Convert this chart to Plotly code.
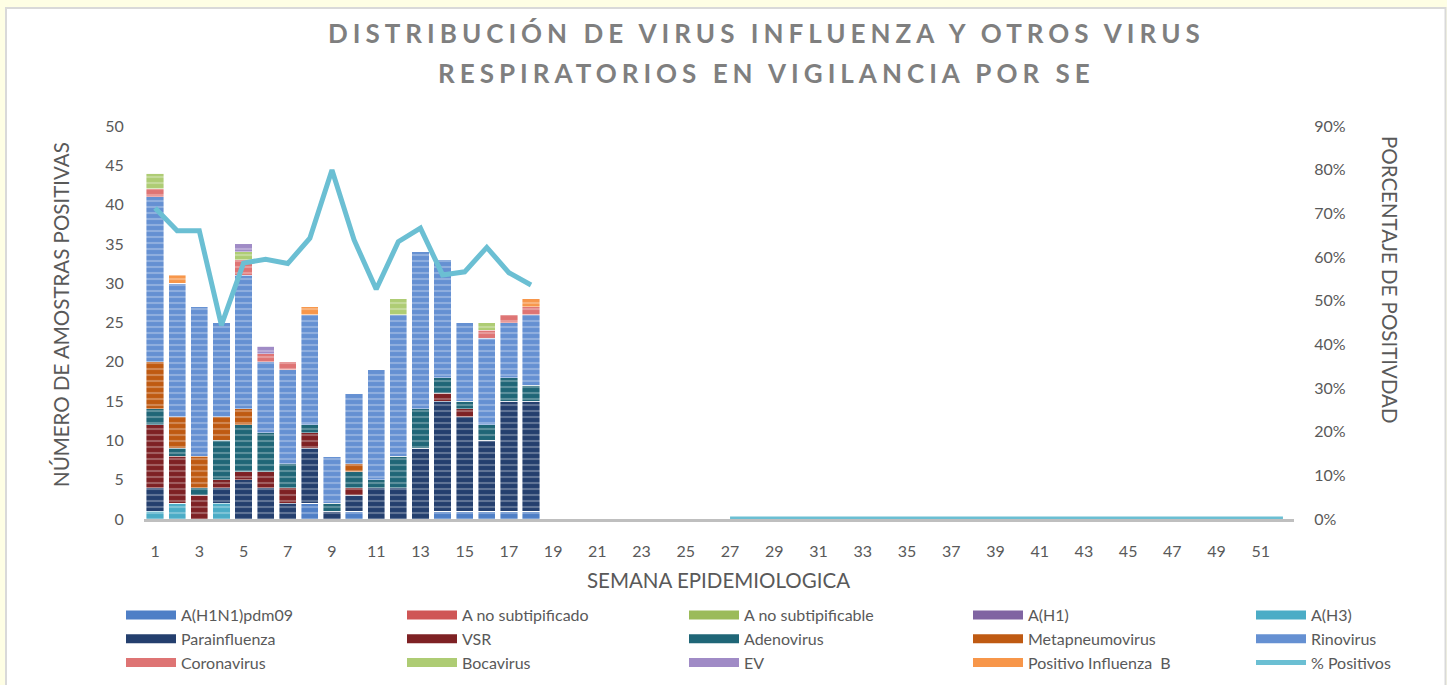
import plotly.graph_objects as go

# ---------------- data ----------------
weeks = list(range(1, 19))          # weeks with bars
all_weeks = list(range(1, 53))      # epidemiological weeks on axis
tick_weeks = list(range(1, 52, 2))

h1n1pdm09        = [0, 0, 0, 0, 0, 0, 0, 2, 0, 1, 0, 0, 0, 1, 1, 1, 1, 1]
a_no_subtipif    = [0] * 18
a_no_subtipifable = [0] * 18
a_h1             = [0] * 18
a_h3             = [1, 2, 0, 2, 0, 0, 0, 0, 0, 0, 0, 0, 0, 0, 0, 0, 0, 0]
parainfluenza    = [3, 0, 0, 2, 5, 4, 2, 7, 1, 2, 4, 4, 9, 14, 12, 9, 14, 14]
vsr              = [8, 6, 3, 1, 1, 2, 2, 2, 0, 1, 0, 0, 0, 1, 1, 0, 0, 0]
adenovirus       = [2, 1, 1, 5, 6, 5, 3, 1, 1, 2, 1, 4, 5, 2, 1, 2, 3, 2]
metapneumovirus  = [6, 4, 4, 3, 2, 0, 0, 0, 0, 1, 0, 0, 0, 0, 0, 0, 0, 0]
rinovirus        = [21, 17, 19, 12, 17, 9, 12, 14, 6, 9, 14, 18, 20, 15, 10, 11, 7, 9]
coronavirus      = [1, 0, 0, 0, 2, 1, 1, 0, 0, 0, 0, 0, 0, 0, 0, 1, 1, 1]
bocavirus        = [2, 0, 0, 0, 1, 0, 0, 0, 0, 0, 0, 2, 0, 0, 0, 1, 0, 0]
ev               = [0, 0, 0, 0, 1, 1, 0, 0, 0, 0, 0, 0, 0, 0, 0, 0, 0, 0]
influenza_b      = [0, 1, 0, 0, 0, 0, 0, 1, 0, 0, 0, 0, 0, 0, 0, 0, 0, 1]

pct_positivos = [0.712, 0.66, 0.66, 0.444, 0.586, 0.595, 0.585, 0.643, 0.799,
                 0.639, 0.526, 0.635, 0.666, 0.559, 0.566, 0.622, 0.564, 0.536,
                 None, None, None, None, None, None, None, None,
                 0, 0, 0, 0, 0, 0, 0, 0, 0, 0, 0, 0, 0,
                 0, 0, 0, 0, 0, 0, 0, 0, 0, 0, 0, 0, 0]

series = [
    ("A(H1N1)pdm09", h1n1pdm09, "#4F7FC6", "legend"),
    ("A no subtipificado", a_no_subtipif, "#CF5656", "legend2"),
    ("A no subtipificable", a_no_subtipifable, "#9BBB59", "legend3"),
    ("A(H1)", a_h1, "#8064A2", "legend4"),
    ("A(H3)", a_h3, "#4BACC6", "legend5"),
    ("Parainfluenza", parainfluenza, "#243F6E", "legend"),
    ("VSR", vsr, "#7E2124", "legend2"),
    ("Adenovirus", adenovirus, "#1F6677", "legend3"),
    ("Metapneumovirus", metapneumovirus, "#BF5A12", "legend4"),
    ("Rinovirus", rinovirus, "#6590D2", "legend5"),
    ("Coronavirus", coronavirus, "#DE7474", "legend"),
    ("Bocavirus", bocavirus, "#AECC74", "legend2"),
    ("EV", ev, "#A08BC6", "legend3"),
    ("Positivo Influenza  B", influenza_b, "#F7964A", "legend4"),
]

# ---------------- layout geometry ----------------
W, H = 1447, 685
L, R, T, B = 144, 153, 126, 166
PW, PH = W - L - R, H - T - B


def px_x(px):
    return (px - L) / PW


def px_y(py):
    return (H - B - py) / PH


FONT = "Lato, 'Open Sans', sans-serif"
GRAY = "#595959"

fig = go.Figure()
for name, vals, color, leg in series:
    fig.add_trace(go.Bar(
        x=weeks, y=vals, name=name, legend=leg, legendgroup=name,
        showlegend=False,
        marker=dict(
            color=color,
            line=dict(width=0.6, color="rgba(255,255,255,0.7)"),
            pattern=dict(shape="-", fgcolor="rgba(255,255,255,0.55)",
                         size=6, solidity=0.35),
        ),
    ))

fig.add_trace(go.Scatter(
    x=all_weeks, y=pct_positivos, name="% Positivos", yaxis="y2",
    mode="lines", line=dict(color="#6BBFD3", width=5),
    connectgaps=False, cliponaxis=False, legend="legend5",
    showlegend=False, legendgroup="pct",
))

# legend keys: wide colour swatches like the original
for name, vals, color, leg in series:
    fig.add_trace(go.Scatter(
        x=[None], y=[None], name=name, legend=leg, legendgroup=name,
        mode="lines", line=dict(color=color, width=9),
    ))
fig.add_trace(go.Scatter(
    x=[None], y=[None], name="% Positivos", legend="legend5",
    legendgroup="pct", mode="lines", line=dict(color="#6BBFD3", width=5),
))

legend_common = dict(
    orientation="v", xanchor="left", yanchor="top",
    font=dict(family=FONT, size=16, color=GRAY),
    bgcolor="rgba(0,0,0,0)", traceorder="normal", itemwidth=50,
)
text_starts = [181, 462, 744, 1028, 1311]
leg_y = px_y(598)
legends = {}
for i, ts in enumerate(text_starts):
    key = "legend" if i == 0 else f"legend{i + 1}"
    legends[key] = dict(legend_common, x=px_x(ts - 60), y=leg_y)

fig.update_layout(
    width=W, height=H,
    margin=dict(l=L, r=R, t=T, b=B, autoexpand=False),
    paper_bgcolor="#FEFEE4",
    plot_bgcolor="rgba(0,0,0,0)",
    barmode="stack", bargap=0.22,
    font=dict(family=FONT, color=GRAY),
    showlegend=True,
    xaxis=dict(
        range=[0.5, 52.5], tickmode="array", tickvals=tick_weeks,
        ticks="outside", ticklen=16, tickcolor="rgba(0,0,0,0)",
        tickfont=dict(size=16, color=GRAY),
        showline=True, linecolor="#BFBFBF", linewidth=3,
        showgrid=False, zeroline=False, layer="below traces",
    ),
    yaxis=dict(
        range=[0, 50], dtick=5, showgrid=False, zeroline=False,
        ticks="outside", ticklen=16, tickcolor="rgba(0,0,0,0)",
        tickfont=dict(size=16, color=GRAY),
    ),
    yaxis2=dict(
        range=[0, 0.9], dtick=0.1, tickformat=".0%", overlaying="y",
        side="right", showgrid=False, zeroline=False,
        ticks="outside", ticklen=16, tickcolor="rgba(0,0,0,0)",
        tickfont=dict(size=16, color=GRAY),
    ),
    **legends,
)

# chart frame (white card with grey border over pale yellow page)
fig.add_shape(type="rect", xref="paper", yref="paper",
              x0=px_x(6), x1=px_x(1445.5), y0=px_y(700), y1=px_y(8),
              fillcolor="white", line=dict(color="#D9D9D9", width=2),
              layer="below")

ls = "letter-spacing:5px"
fig.add_annotation(
    text=f'<b><span style="{ls}">DISTRIBUCIÓN DE VIRUS INFLUENZA Y OTROS VIRUS</span></b>',
    xref="paper", yref="paper", x=px_x(766), y=px_y(33),
    xanchor="center", yanchor="middle", showarrow=False,
    font=dict(family=FONT, size=26, color="#7F7F7F"))
fig.add_annotation(
    text=f'<b><span style="{ls}">RESPIRATORIOS EN VIGILANCIA POR SE</span></b>',
    xref="paper", yref="paper", x=px_x(766), y=px_y(73),
    xanchor="center", yanchor="middle", showarrow=False,
    font=dict(family=FONT, size=26, color="#7F7F7F"))

fig.add_annotation(
    text="NÚMERO DE AMOSTRAS POSITIVAS", textangle=-90,
    xref="paper", yref="paper", x=px_x(61), y=px_y(315),
    xanchor="center", yanchor="middle", showarrow=False,
    font=dict(family=FONT, size=20.5, color=GRAY))
fig.add_annotation(
    text="PORCENTAJE DE POSITIVDAD", textangle=90,
    xref="paper", yref="paper", x=px_x(1390), y=px_y(280),
    xanchor="center", yanchor="middle", showarrow=False,
    font=dict(family=FONT, size=20.5, color=GRAY))
fig.add_annotation(
    text="SEMANA EPIDEMIOLOGICA",
    xref="paper", yref="paper", x=px_x(718), y=px_y(580),
    xanchor="center", yanchor="middle", showarrow=False,
    font=dict(family=FONT, size=20.5, color=GRAY))

fig.write_html("out.html",
               config={"displayModeBar": False},
               post_script="document.body.style.margin='0';"
                           "document.body.style.overflow='hidden';")
